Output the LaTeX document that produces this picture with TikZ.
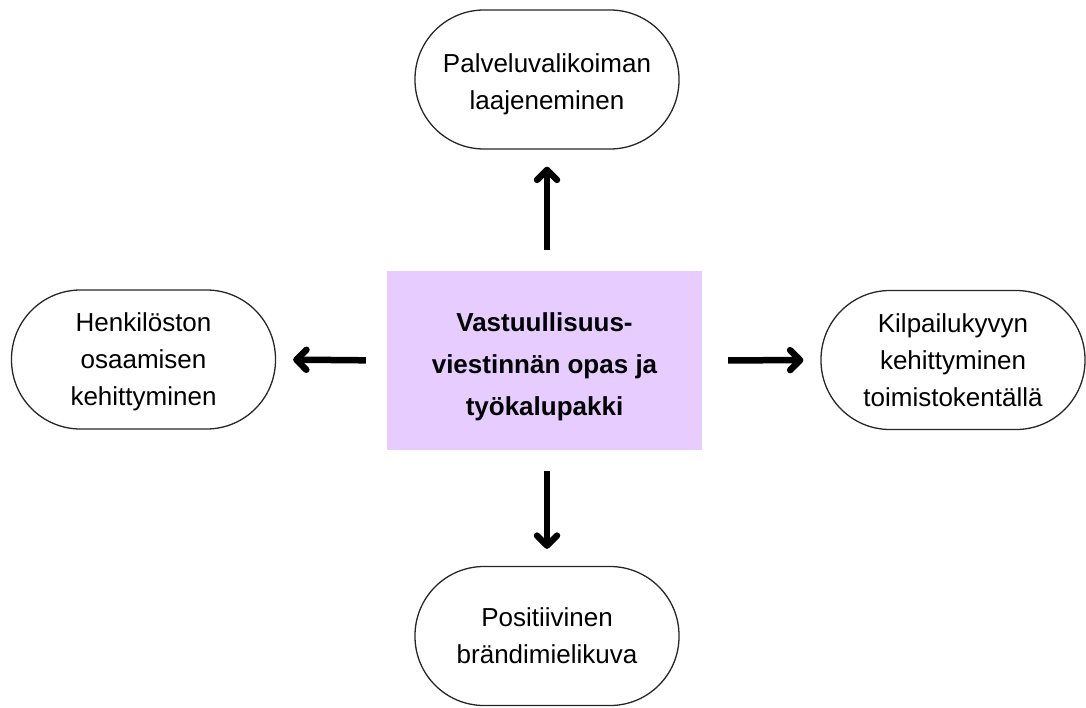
\documentclass[tikz,border=0pt]{standalone}
\usepackage{fontspec}
\setmainfont{Liberation Sans}
\usetikzlibrary{arrows.meta}
\definecolor{lila}{RGB}{230,204,255}
\newcommand{\lift}[1]{\rule{0pt}{#1}}

\begin{document}
\begin{tikzpicture}[x=1pt, y=-1pt,
	pill/.style={draw=black!85, line width=1.3pt, rounded corners=69pt, minimum width=264pt, minimum height=139pt, align=center, font=\fontsize{26}{37}\selectfont},
	core/.style={fill=lila, minimum width=315pt, minimum height=179pt, align=center, font=\bfseries\fontsize{26}{42}\selectfont},
	arr/.style={line width=6.5pt, -{Straight Barb[length=10pt, width=20pt, line cap=round, line join=round]}, shorten <=21pt, shorten >=17pt}]
	\useasboundingbox (0,0) rectangle (1086,707);
	%middle
	\node[core] (guide) at (544.5,360.5) {\lift{32pt}Vastuullisuus-\\viestinnän opas ja\\työkalupakki};
	%outcomes
	\node[pill] (service) at (547,79.5) {\lift{28pt}Palveluvalikoiman\\laajeneminen};
	\node[pill] (staff) at (143.5,359.5) {\lift{23pt}Henkilöston\\osaamisen\\kehittyminen};
	\node[pill] (compete) at (953,360) {Kilpailukyvyn\\kehittyminen\\toimistokentällä};
	\node[pill] (brand) at (547,636) {Positiivinen\\brändimielikuva};
	%arrows
	\draw[arr] (guide.north -| service) -- (service.south);
	\draw[arr] (guide.west) -- (staff.east);
	\draw[arr, shorten <=26pt] (guide.east) -- (compete.west);
	\draw[arr] (guide.south -| brand) -- (brand.north);
\end{tikzpicture}
\end{document}
